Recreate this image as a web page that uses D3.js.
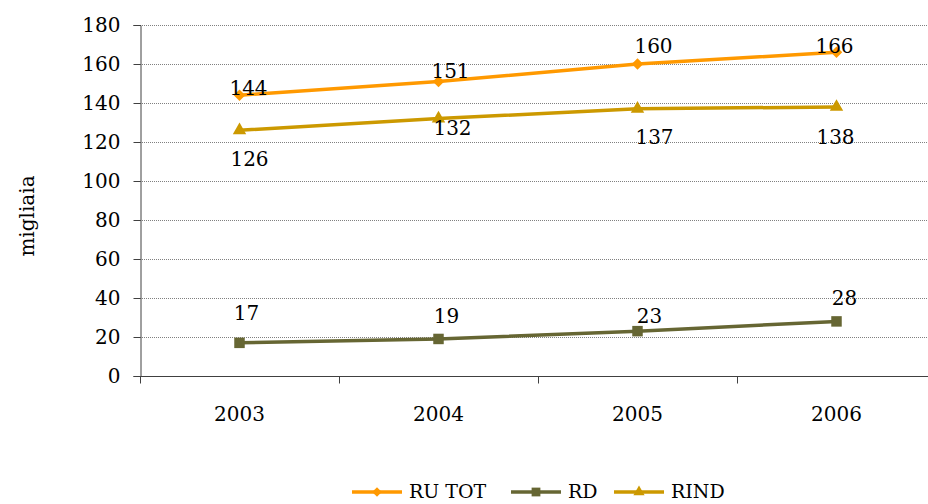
<!DOCTYPE html>
<html>
<head>
<meta charset="utf-8">
<script src="https://cdn.jsdelivr.net/npm/d3@7"></script>
<style>
  body { margin: 0; background: #fff; }
  svg text { font-family: "DejaVu Serif", serif; fill: #000; }
</style>
</head>
<body>
<svg width="928" height="504"></svg>
<script>
// data
let years = ["2003", "2004", "2005", "2006"];
let ruTot = [144, 151, 160, 166];
let rd = [17, 19, 23, 28];
let rind = [126, 132, 137, 138];
let yTicks = [0, 20, 40, 60, 80, 100, 120, 140, 160, 180];

// where each value label sits relative to its point (layout only)
let series = [
  { name: "RU TOT", values: ruTot, color: "#ff9900", symbol: "diamond",
    labelDx: [9, 12, 16, -2], labelDy: [0, -4, -11, 1] },
  { name: "RD", values: rd, color: "#666633", symbol: "square",
    labelDx: [7, 8, 12, 8], labelDy: [-23, -16, -8, -16] },
  { name: "RIND", values: rind, color: "#cc9900", symbol: "triangle",
    labelDx: [10, 14, 17, -1], labelDy: [36, 16, 35, 37] }
];

let svg = d3.select('svg');
let plotLeft = 140, plotRight = 936, plotTop = 25, plotBottom = 376;

let x = d3.scaleBand().domain(years).range([plotLeft, plotRight]);
let y = d3.scaleLinear().domain([0, 180]).range([plotBottom, plotTop]);

// horizontal grid
svg.append('g')
   .selectAll('line')
   .data(yTicks.filter(d => d > 0))
   .enter()
   .append('line')
   .attr('x1', plotLeft).attr('x2', 928)
   .attr('y1', d => Math.round(y(d)) + 0.5)
   .attr('y2', d => Math.round(y(d)) + 0.5)
   .attr('stroke', '#808080')
   .attr('stroke-dasharray', '1,1');

// y axis
let yAxis = svg.append('g')
  .attr('transform', `translate(${plotLeft + 0.5},0)`)
  .call(d3.axisLeft(y).tickValues(yTicks).tickSize(7).tickPadding(13));
yAxis.select('.domain').attr('stroke', '#404040');
yAxis.selectAll('.tick line').attr('stroke', '#404040');
yAxis.selectAll('.tick text').attr('font-size', 20).attr('fill', '#000')
     .attr('font-family', '"DejaVu Serif", serif');

// x axis (ticks on band edges)
let xg = svg.append('g').attr('transform', `translate(0,${plotBottom + 0.5})`);
xg.append('line').attr('x1', plotLeft).attr('x2', 928).attr('stroke', '#404040');
xg.selectAll('.edge')
  .data(years)
  .enter()
  .append('line')
  .attr('class', 'edge')
  .attr('x1', d => Math.round(x(d)) + 0.5)
  .attr('x2', d => Math.round(x(d)) + 0.5)
  .attr('y1', 0).attr('y2', 7)
  .attr('stroke', '#404040');
xg.selectAll('text')
  .data(years)
  .enter()
  .append('text')
  .attr('x', d => x(d) + x.bandwidth() / 2)
  .attr('y', 44)
  .attr('text-anchor', 'middle')
  .attr('font-size', 20)
  .text(d => d);

// y label
svg.append('text')
   .attr('transform', 'translate(34,216) rotate(-90)')
   .attr('text-anchor', 'middle')
   .attr('font-size', 20)
   .text('migliaia');

let symbolPath = (kind, scale) => {
  if (kind === 'diamond') return d3.symbol(d3.symbolSquare, 66 * scale)();
  if (kind === 'square') return d3.symbol(d3.symbolSquare, 110 * scale)();
  return d3.symbol(d3.symbolTriangle, 78 * scale)();
};

let line = d3.line()
  .x((d, i) => x(years[i]) + x.bandwidth() / 2)
  .y(d => y(d));

series.forEach(s => {
  let g = svg.append('g');
  g.append('path')
   .attr('d', line(s.values))
   .attr('fill', 'none')
   .attr('stroke', s.color)
   .attr('stroke-width', 3.5);
  g.selectAll('path.mark')
   .data(s.values)
   .enter()
   .append('path')
   .attr('class', 'mark')
   .attr('d', symbolPath(s.symbol, 1))
   .attr('fill', s.color)
   .attr('transform', (d, i) => `translate(${x(years[i]) + x.bandwidth() / 2},${y(d)})` + (s.symbol === 'diamond' ? ' rotate(45)' : ''));
  g.selectAll('text')
   .data(s.values)
   .enter()
   .append('text')
   .attr('x', (d, i) => x(years[i]) + x.bandwidth() / 2 + s.labelDx[i])
   .attr('y', (d, i) => y(d) + s.labelDy[i])
   .attr('text-anchor', 'middle')
   .attr('font-size', 20)
   .text(d => d);
});

// legend
let legendX = [352, 511, 614];
let legend = svg.append('g');
series.forEach((s, i) => {
  let lg = legend.append('g').attr('transform', `translate(${legendX[i]},492)`);
  lg.append('line').attr('x1', 0).attr('x2', 50).attr('stroke', s.color).attr('stroke-width', 3.5);
  lg.append('path')
    .attr('d', symbolPath(s.symbol, 0.7))
    .attr('fill', s.color)
    .attr('transform', 'translate(25,0)' + (s.symbol === 'diamond' ? ' rotate(45)' : ''));
  lg.append('text')
    .attr('x', 57)
    .attr('y', 6)
    .attr('font-size', 19)
    .text(s.name);
});
</script>
</body>
</html>
